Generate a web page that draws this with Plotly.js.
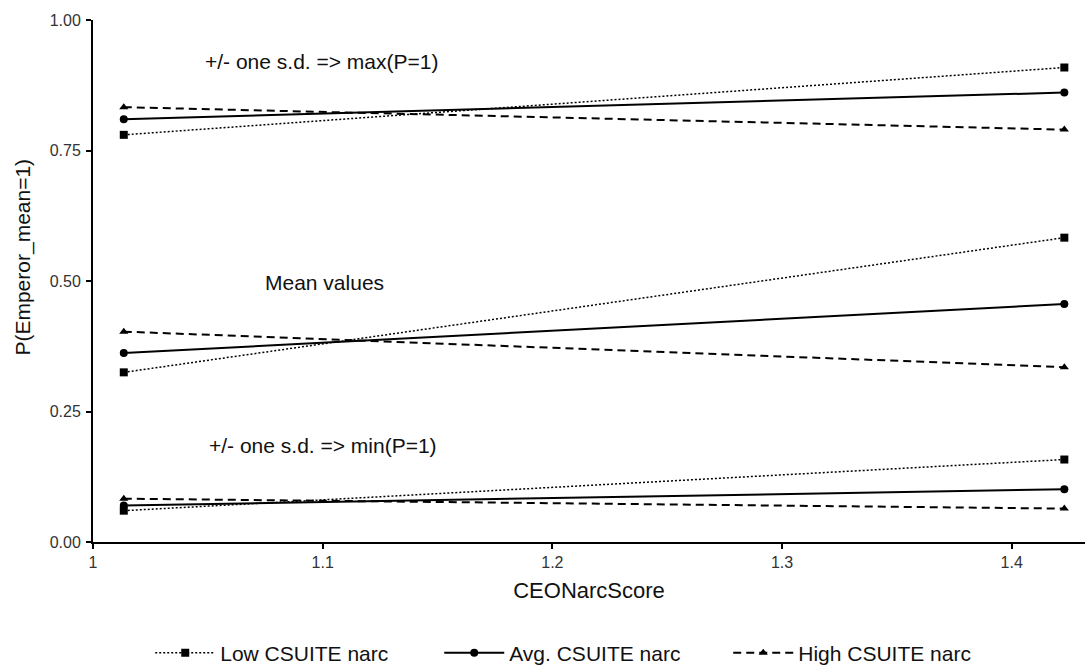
<!DOCTYPE html>
<html>
<head>
<meta charset="utf-8">
<script src="https://cdn.plot.ly/plotly-3.0.1.min.js"></script>
<style>html,body{margin:0;padding:0;background:#fff;}#chart{width:1085px;height:666px;}</style>
</head>
<body>
<div id="chart"></div>
<script>
// CEONarcScore at which predictions were evaluated
const xPoints = [1.0134, 1.4229];

// Low CSUITE narc
const lowMax  = [0.780, 0.909];
const lowMean = [0.325, 0.583];
const lowMin  = [0.060, 0.158];
// Avg. CSUITE narc
const avgMax  = [0.810, 0.861];
const avgMean = [0.362, 0.456];
const avgMin  = [0.070, 0.101];
// High CSUITE narc
const highMax  = [0.833, 0.790];
const highMean = [0.403, 0.335];
const highMin  = [0.083, 0.064];

const seriesNames = ['Low CSUITE narc', 'Avg. CSUITE narc', 'High CSUITE narc'];
const xTickVals = [1, 1.1, 1.2, 1.3, 1.4];
const xTickText = ['1', '1.1', '1.2', '1.3', '1.4'];
const yTickVals = [0, 0.25, 0.5, 0.75, 1];

const annotTexts = ['+/- one s.d. => max(P=1)', 'Mean values', '+/- one s.d. => min(P=1)'];

function joinGroups(groups) {
  const xs = [], ys = [];
  groups.forEach((g, i) => {
    if (i > 0) { xs.push(null); ys.push(null); }
    xPoints.forEach((x, j) => { xs.push(x); ys.push(g[j]); });
  });
  return {x: xs, y: ys};
}

const low = joinGroups([lowMax, lowMean, lowMin]);
const avg = joinGroups([avgMax, avgMean, avgMin]);
const high = joinGroups([highMax, highMean, highMin]);

const traces = [
  {x: low.x, y: low.y, name: seriesNames[0], mode: 'lines+markers', connectgaps: false,
   line: {color: '#000', width: 1.5, dash: '2px,2px'},
   marker: {symbol: 'square', size: 8, color: '#000'}},
  {x: avg.x, y: avg.y, name: seriesNames[1], mode: 'lines+markers', connectgaps: false,
   line: {color: '#000', width: 2, dash: 'solid'},
   marker: {symbol: 'circle', size: 8, color: '#000'}},
  {x: high.x, y: high.y, name: seriesNames[2], mode: 'lines+markers', connectgaps: false,
   line: {color: '#000', width: 2, dash: '8px,5px'},
   marker: {symbol: 'triangle-up', size: 8, color: '#000'}}
];

const textFont = {family: 'Liberation Sans, Arial, sans-serif', size: 21, color: '#111'};

const layout = {
  width: 1085, height: 666,
  margin: {l: 93, r: 0, t: 20, b: 124},
  paper_bgcolor: '#fff', plot_bgcolor: '#fff',
  font: {family: 'Liberation Sans, Arial, sans-serif', color: '#111'},
  showlegend: true,
  legend: {
    orientation: 'h', xref: 'container', yref: 'container',
    x: 0.538, xanchor: 'center', y: 0.0195, yanchor: 'middle',
    font: textFont, itemwidth: 60, entrywidth: 214, entrywidthmode: 'pixels',
    bgcolor: 'rgba(0,0,0,0)'
  },
  xaxis: {
    range: [1, 1.4319], showgrid: false, zeroline: false,
    showline: true, linecolor: '#000', linewidth: 2,
    ticks: 'outside', ticklen: 5, tickwidth: 2, tickcolor: '#000',
    tickvals: xTickVals, ticktext: xTickText, ticklabelstandoff: 0,
    tickfont: {family: 'Liberation Sans, Arial, sans-serif', size: 16, color: '#333'},
    title: {text: 'CEONarcScore', font: {family: 'Liberation Sans, Arial, sans-serif', size: 22, color: '#111'}, standoff: 12}
  },
  yaxis: {
    range: [0, 1], showgrid: false, zeroline: false,
    showline: true, linecolor: '#000', linewidth: 2,
    ticks: 'outside', ticklen: 5, tickwidth: 2, tickcolor: '#000',
    tickvals: yTickVals, tickformat: '.2f', ticklabelstandoff: 2,
    tickfont: {family: 'Liberation Sans, Arial, sans-serif', size: 16, color: '#333'}
  },
  annotations: [
    {text: annotTexts[0], x: 1.0478, y: 0.920, xref: 'x', yref: 'y', xanchor: 'left', yanchor: 'middle', showarrow: false, font: textFont},
    {text: annotTexts[1], x: 1.0739, y: 0.498, xref: 'x', yref: 'y', xanchor: 'left', yanchor: 'middle', showarrow: false, font: textFont},
    {text: annotTexts[2], x: 1.0495, y: 0.185, xref: 'x', yref: 'y', xanchor: 'left', yanchor: 'middle', showarrow: false, font: textFont},
    {text: 'P(Emperor_mean=1)', x: -0.071, y: 0.546, xref: 'paper', yref: 'paper', xanchor: 'center', yanchor: 'middle', textangle: -90, showarrow: false, font: textFont}
  ]
};

Plotly.newPlot('chart', traces, layout, {displayModeBar: false, staticPlot: true});
</script>
</body>
</html>
